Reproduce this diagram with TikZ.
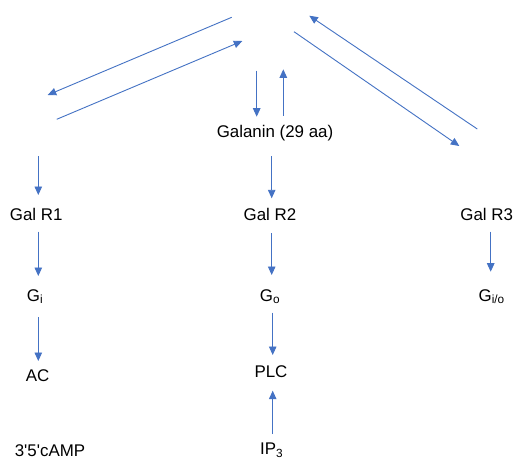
\documentclass[tikz,border=0pt]{standalone}
\usepackage{fontspec}
\setmainfont{Liberation Sans}
\usetikzlibrary{arrows.meta}
\definecolor{arrblue}{HTML}{4472C4}
\begin{document}
\begin{tikzpicture}[x=1pt,y=-1pt,
  lbl/.style={inner sep=0pt,font=\fontsize{16.9}{20}\selectfont,text=black},
  arr/.style={draw=arrblue,line width=0.9pt,-{Triangle[length=8.5pt,width=7.5pt]}}]
\useasboundingbox[fill=white] (0,0) rectangle (514,459);
% text nodes
\node[lbl] (gal) at (275,133.3) {Galanin (29 aa)};
\node[lbl] (r1) at (36.2,214.3) {Gal R1};
\node[lbl] (r2) at (270,214.3) {Gal R2};
\node[lbl] (r3) at (486.7,214.3) {Gal R3};
\node[lbl] (gi) at (35,296.7) {G\textsubscript{i}};
\node[lbl] (go) at (270,296.7) {G\textsubscript{o}};
\node[lbl] (gio) at (491.7,296.7) {G\textsubscript{i/o}};
\node[lbl] (ac) at (37.7,376) {AC};
\node[lbl] (plc) at (271,371.7) {PLC};
\node[lbl] (camp) at (50,450.5) {3\textquotesingle5\textquotesingle cAMP};
\node[lbl] (ip3) at (271.7,450.5) {IP\textsubscript{3}};
% free arrow end points
\coordinate (a1) at (231.7,17.3);  \coordinate (a2) at (47.7,95);
\coordinate (b1) at (56.7,119.3);  \coordinate (b2) at (242.3,41);
\coordinate (c1) at (256.7,70.7);  \coordinate (c2) at (256.7,116.7);
\coordinate (d1) at (283.3,115.7); \coordinate (d2) at (283.3,69.3);
\coordinate (e1) at (294,31.7);    \coordinate (e2) at (459.3,146);
\coordinate (f1) at (477.3,129);   \coordinate (f2) at (309.3,15.7);
\coordinate (l1) at (38.3,156);    \coordinate (l2) at (38.3,195);
\coordinate (l3) at (38.3,231.7);  \coordinate (l4) at (38.3,276);
\coordinate (l5) at (38.3,317.3);  \coordinate (l6) at (38.3,361);
\coordinate (m1) at (271.7,156);   \coordinate (m2) at (271.7,198.3);
\coordinate (m3) at (271.7,233.3); \coordinate (m4) at (271.7,275);
\coordinate (m5) at (272.7,312.7); \coordinate (m6) at (272.7,355);
\coordinate (m7) at (272.7,434);   \coordinate (m8) at (272.7,390.7);
\coordinate (r31) at (490.7,231.7);\coordinate (r32) at (490.7,271.7);
% arrows
\draw[arr] (a1) -- (a2);
\draw[arr] (b1) -- (b2);
\draw[arr] (c1) -- (c2);
\draw[arr] (d1) -- (d2);
\draw[arr] (e1) -- (e2);
\draw[arr] (f1) -- (f2);
\draw[arr] (l1) -- (l2);
\draw[arr] (l3) -- (l4);
\draw[arr] (l5) -- (l6);
\draw[arr] (m1) -- (m2);
\draw[arr] (m3) -- (m4);
\draw[arr] (m5) -- (m6);
\draw[arr] (m7) -- (m8);
\draw[arr] (r31) -- (r32);
\end{tikzpicture}
\end{document}
